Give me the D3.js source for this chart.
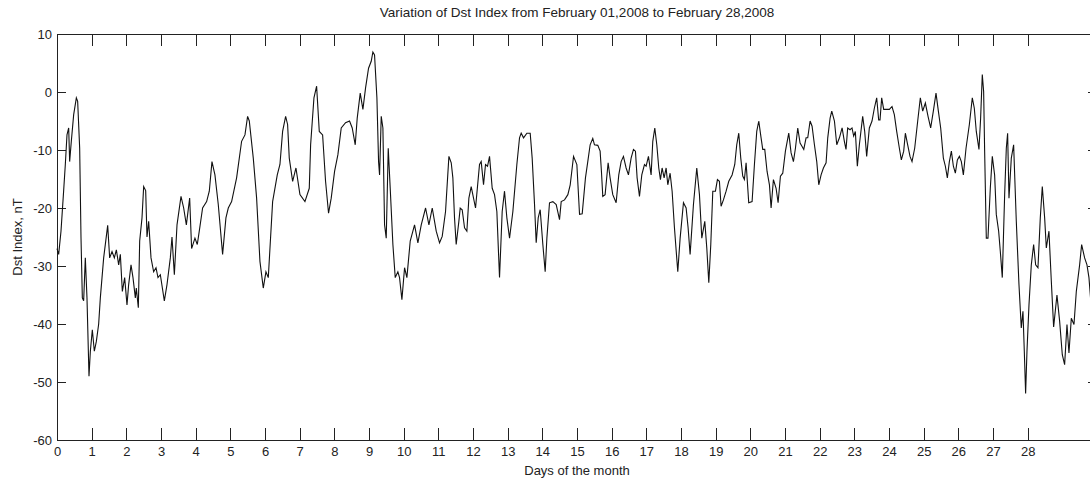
<!DOCTYPE html>
<meta charset="utf-8">
<style>
body { margin: 0; background: #fff; }
svg { display: block; font-family: "Liberation Sans", Arial, sans-serif; }
.line { fill: none; stroke: #111; stroke-width: 1.1; }
.axis path, .axis line { stroke: #222; shape-rendering: crispEdges; }
.axis text { fill: #222; font-size: 13px; }
.lbl { fill: #222; font-size: 13px; }
.title { fill: #222; font-size: 13.5px; }
</style>
<body>
<script src="https://d3js.org/d3.v7.min.js"></script>
<script>
// hours, in days from Feb 01
var days = [0,0.048,0.115,0.192,0.24,0.288,0.337,0.365,0.413,0.481,0.558,0.596,0.654,0.692,0.731,0.769,0.817,0.865,0.923,0.962,
  1.019,1.077,1.135,1.202,1.25,1.346,1.462,1.519,1.587,1.654,1.712,1.779,1.827,1.885,1.952,
  2.019,2.067,2.135,2.192,2.26,2.288,2.346,2.385,2.452,2.5,2.558,2.596,2.644,2.712,2.788,2.856,2.913,2.981,
  3.096,3.173,3.269,3.317,3.385,3.462,3.577,3.654,3.731,3.827,3.883,3.979,
  4.047,4.104,4.2,4.316,4.393,4.47,4.556,4.652,4.777,4.873,4.941,
  5.037,5.181,5.325,5.422,5.498,5.547,5.662,5.758,5.854,5.95,
  6.027,6.095,6.22,6.354,6.431,6.508,6.595,6.652,6.7,6.797,6.893,
  7.008,7.152,7.277,7.316,7.412,7.489,7.566,7.662,7.747,7.833,7.91,
  8.007,8.103,8.199,8.324,8.439,8.516,8.603,8.66,8.747,8.824,8.901,8.987,
  9.064,9.112,9.16,9.228,9.276,9.305,9.353,9.401,9.449,9.497,9.555,9.612,9.689,9.757,9.833,9.881,9.949,
  10.026,10.093,10.189,10.314,10.41,10.507,10.632,10.728,10.824,10.939,
  11.035,11.112,11.208,11.305,11.372,11.419,11.467,11.515,11.592,11.631,11.688,11.756,11.823,11.881,11.948,
  12.073,12.188,12.236,12.304,12.361,12.419,12.477,12.554,12.621,12.688,12.765,12.842,12.909,12.977,
  13.054,13.15,13.265,13.342,13.39,13.458,13.554,13.65,13.707,13.775,13.823,13.881,13.938,
  14.015,14.082,14.131,14.207,14.304,14.4,14.496,14.544,14.64,14.736,14.804,14.9,14.996,
  15.073,15.15,15.244,15.311,15.379,15.455,15.504,15.6,15.667,15.705,15.744,15.811,15.898,15.955,
  16.032,16.129,16.205,16.273,16.34,16.417,16.484,16.561,16.629,16.686,16.734,16.802,16.869,16.946,16.994,
  17.061,17.138,17.186,17.244,17.302,17.359,17.407,17.455,17.513,17.571,17.619,17.686,17.744,17.811,17.907,17.975,
  18.071,18.148,18.205,18.263,18.359,18.455,18.532,18.6,18.686,18.744,18.802,18.859,18.917,18.993,
  19.051,19.108,19.156,19.224,19.301,19.378,19.474,19.551,19.608,19.666,19.724,19.781,19.829,19.878,19.954,
  20.051,20.118,20.185,20.243,20.31,20.358,20.416,20.483,20.551,20.599,20.666,20.743,20.801,20.868,20.935,
  21.012,21.108,21.176,21.243,21.301,21.368,21.435,21.493,21.541,21.608,21.656,21.724,21.781,21.849,21.916,21.974,
  22.041,22.108,22.185,22.233,22.301,22.349,22.426,22.493,22.57,22.647,22.712,22.76,22.808,22.876,22.933,22.981,
  23.029,23.087,23.145,23.241,23.299,23.356,23.433,23.51,23.577,23.645,23.702,23.741,23.789,23.847,23.914,
  24.01,24.087,24.154,24.222,24.299,24.356,24.424,24.472,24.539,24.606,24.664,24.741,24.828,24.904,24.972,
  25.049,25.126,25.202,25.279,25.356,25.424,25.491,25.568,25.626,25.683,25.741,25.799,25.857,25.914,25.972,
  26.03,26.087,26.145,26.222,26.318,26.403,26.461,26.518,26.595,26.643,26.691,26.73,26.759,26.807,26.855,26.922,26.98,
  27.047,27.095,27.163,27.211,27.268,27.336,27.384,27.422,27.461,27.528,27.595,27.672,27.749,27.816,27.864,27.903,27.941,27.98,
  28.038,28.105,28.172,28.23,28.297,28.364,28.422,28.49,28.538,28.614,28.682,28.749,28.845,28.922,28.999,
  29.066,29.134,29.191,29.259,29.336,29.403,29.499,29.557,29.643,29.711,29.768,29.82];

var dst = [-27,-28,-24,-17,-12.5,-7.4,-6.2,-12,-8.5,-3.9,-1,-1.6,-9.7,-25,-35.5,-36,-28.6,-35.5,-49,-44.7,
  -41,-44.7,-43,-40,-35.5,-28.6,-23,-28.6,-27.5,-28.6,-27.2,-29.8,-28,-34.4,-32,
  -36.7,-33.2,-29.8,-32,-35.5,-33.8,-37.2,-25.7,-21.7,-16.3,-17,-25,-22.3,-28.6,-31,-30.3,-32,-31.5,
  -36,-33.2,-28.6,-25,-31.5,-22.9,-18,-20,-22.9,-18.3,-27,-25.2,
  -26.3,-24,-20,-18.9,-17.1,-12,-14.3,-19.4,-28,-21.7,-20,
  -18.9,-14.8,-8.5,-7.4,-4.2,-5,-11.4,-18.3,-29.2,-33.8,
  -31,-32,-18.9,-14.3,-12.5,-6.8,-4.2,-5.6,-11.4,-15.4,-13.1,
  -17.7,-18.9,-16.6,-9.1,-1,1,-6.8,-7.4,-15.4,-20.9,-18.3,
  -13.7,-10.8,-6.2,-5.3,-5,-6.2,-9.1,-4.5,-0.2,-3,0.7,4.1,
  5.3,6.9,6.4,-1,-12,-14.3,-4.2,-6.2,-22.9,-25.2,-9.7,-16.6,-26.3,-32,-31,-32,-35.8,
  -30.3,-32,-25.7,-22.9,-26,-22.9,-20,-22.9,-20,-24,
  -26,-24.9,-20.6,-11.1,-12.2,-14.8,-21.7,-26.3,-22.3,-20,-20.3,-23.4,-24,-18.3,-16.3,
  -20,-12.5,-12,-16,-12.5,-12.8,-11.1,-16.6,-17.7,-20.6,-32,-20.6,-17.1,-21.7,
  -25.2,-20.6,-12.5,-7.9,-7.1,-7.9,-7.1,-7.1,-11.4,-19.4,-26,-21.7,-20.3,
  -26.3,-31,-25.2,-19.1,-18.9,-19.4,-22,-18.9,-18.6,-17.7,-16,-11.1,-12.5,
  -21.1,-21,-14.8,-12,-9.1,-8,-9.1,-9.2,-10.2,-13.7,-18,-17.7,-12.2,-14.8,
  -17.7,-19.1,-14.3,-12,-11.1,-13.1,-14.3,-11.4,-9.9,-10.2,-14.8,-18,-14.3,-12.5,-12.8,
  -11.1,-14.3,-8.5,-6.2,-9.1,-13.1,-15.1,-13.1,-14.8,-13.1,-16,-14,-17.1,-23.4,-31,-25.2,
  -19.1,-20,-23.4,-28,-19.4,-13.1,-17.7,-25.2,-22.3,-26.9,-32.9,-26.3,-17.1,-17.1,
  -15.1,-15.4,-19.7,-18.6,-17.1,-15.4,-14.3,-12.5,-9.1,-7.1,-11.4,-14.5,-15.1,-12.2,-19.1,
  -18.9,-12.5,-6.8,-5,-7.9,-9.9,-9.9,-13.7,-16,-20,-15.1,-16.6,-19.1,-14.5,-14,
  -10.2,-7.1,-10.5,-12,-9.7,-6.2,-8.8,-9.4,-9.9,-7.9,-7.9,-5,-5.9,-9.1,-12,-16,
  -14.3,-13.1,-12.2,-7.9,-4.5,-3.3,-5,-9.1,-7.9,-6.2,-8.5,-9.9,-6.2,-6.5,-6.2,-7.6,
  -6.8,-12.8,-9.1,-4.2,-6.8,-11.1,-6.2,-5,-2.8,-1,-4.8,-4.8,-1,-3,-3,
  -3,-2.5,-3.9,-6.8,-9.7,-11.7,-10.2,-7.1,-9.1,-11.1,-12,-9.7,-5,-1,-3.3,
  -1.9,-4.2,-6.2,-3.3,-0.2,-3.3,-6.2,-11.4,-12.8,-14.8,-12,-10.2,-12.8,-14,-11.7,
  -11.1,-12,-14.3,-9.7,-5.6,-1,-2.8,-6.8,-9.9,-4.5,3,0.1,-10.2,-25.2,-25.2,-16.6,-11.1,
  -14.3,-21.1,-24,-27.5,-32,-17.7,-9.7,-7.1,-18.3,-11.4,-9.1,-22.3,-33.2,-40.7,-37.8,-44.7,-52,-44.7,
  -36.7,-29.8,-26.3,-29.8,-30.3,-21.7,-16.3,-21.7,-26.9,-24,-32.6,-40.5,-35,-39.5,-45.3,
  -47,-40.1,-45,-39,-40.1,-34.4,-29.8,-26.3,-28.6,-29.8,-32,-36];

var xTicks = d3.range(0, 29);          // 0 .. 28
var yTicks = d3.range(-60, 11, 10);    // -60 .. 10

var margin = {top: 34, left: 57},
    width = 1040, height = 406;

var svg = d3.select("body").append("svg")
    .attr("width", 1090)
    .attr("height", 479);

var g = svg.append("g")
    .attr("transform", "translate(" + margin.left + "," + margin.top + ")");

var x = d3.scaleLinear().domain([0, 30]).range([0, width]);
var y = d3.scaleLinear().domain([-60, 10]).range([height, 0]);

// box with inward ticks, matlab style
g.append("g").attr("class", "axis")
    .attr("transform", "translate(0," + height + ")")
    .call(d3.axisBottom(x).tickValues(xTicks).tickSizeInner(-12).tickSizeOuter(0).tickPadding(7));

g.append("g").attr("class", "axis")
    .call(d3.axisTop(x).tickValues(xTicks).tickSizeInner(-12).tickSizeOuter(0).tickFormat(""));

g.append("g").attr("class", "axis")
    .call(d3.axisLeft(y).tickValues(yTicks).tickSizeInner(-9).tickSizeOuter(0).tickPadding(5)
      .tickFormat(function(d) { return String(d); }));

g.append("g").attr("class", "axis")
    .attr("transform", "translate(" + width + ",0)")
    .call(d3.axisRight(y).tickValues(yTicks).tickSizeInner(-9).tickSizeOuter(0).tickFormat(""));

var line = d3.line()
    .x(function(d, i) { return x(days[i]); })
    .y(function(d) { return y(d); });

g.append("path")
    .datum(dst)
    .attr("class", "line")
    .attr("d", line);

svg.append("text").attr("class", "title")
    .attr("x", margin.left + width / 2).attr("y", 17)
    .attr("text-anchor", "middle")
    .text("Variation of Dst Index from February 01,2008 to February 28,2008");

svg.append("text").attr("class", "lbl")
    .attr("x", margin.left + width / 2).attr("y", 475)
    .attr("text-anchor", "middle")
    .text("Days of the month");

svg.append("text").attr("class", "lbl")
    .attr("transform", "translate(22," + (margin.top + height / 2) + ") rotate(-90)")
    .attr("text-anchor", "middle")
    .text("Dst Index, nT");
</script>
</body>
